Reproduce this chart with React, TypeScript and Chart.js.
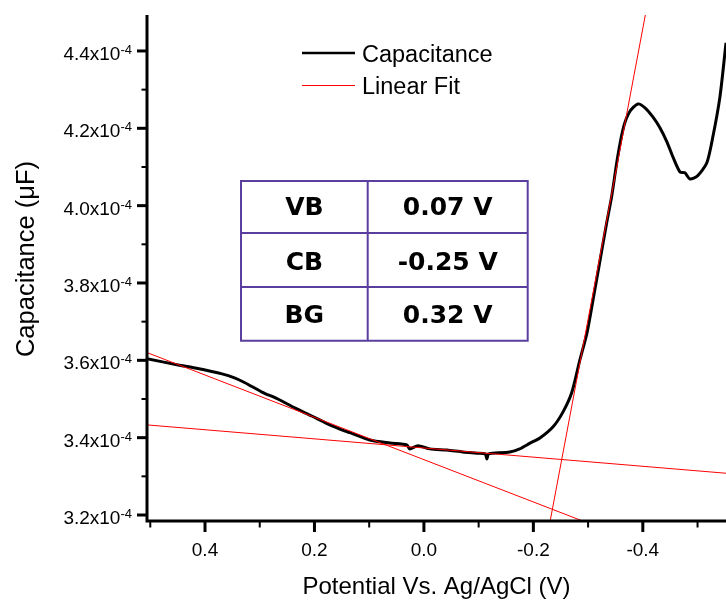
import React, { useEffect, useRef } from "react";
import { Chart, registerables } from "chart.js";

Chart.register(...registerables);

// Measured curve: potential (V vs Ag/AgCl) and capacitance (µF)
const potential = [
  0.506, 0.449, 0.418, 0.369, 0.345, 0.327, 0.296, 0.267, 0.236, 0.205, 0.175, 0.144,
  0.135, 0.099, 0.062, 0.031, 0.026, 0.011, -0.011, -0.042, -0.071, -0.097, -0.112,
  -0.115, -0.118, -0.126, -0.157, -0.175, -0.194, -0.212, -0.236, -0.254, -0.27,
  -0.285, -0.298, -0.309, -0.321, -0.334, -0.343, -0.354, -0.365, -0.376, -0.391,
  -0.404, -0.418, -0.431, -0.444, -0.455, -0.468, -0.477, -0.486, -0.5, -0.517,
  -0.528, -0.541, -0.552,
];
const capacitance = [
  3.604e-4, 3.588e-4, 3.58e-4, 3.565e-4, 3.554e-4, 3.542e-4, 3.518e-4, 3.5e-4, 3.477e-4,
  3.456e-4, 3.435e-4, 3.417e-4, 3.413e-4, 3.394e-4, 3.386e-4, 3.381e-4, 3.371e-4,
  3.379e-4, 3.371e-4, 3.368e-4, 3.363e-4, 3.36e-4, 3.358e-4, 3.345e-4, 3.358e-4,
  3.36e-4, 3.363e-4, 3.371e-4, 3.386e-4, 3.399e-4, 3.428e-4, 3.466e-4, 3.516e-4,
  3.601e-4, 3.671e-4, 3.756e-4, 3.852e-4, 3.956e-4, 4.023e-4, 4.126e-4, 4.204e-4,
  4.243e-4, 4.263e-4, 4.253e-4, 4.23e-4, 4.202e-4, 4.165e-4, 4.126e-4, 4.087e-4,
  4.085e-4, 4.069e-4, 4.077e-4, 4.111e-4, 4.178e-4, 4.282e-4, 4.421e-4,
];

// Linear fits (end points)
const vbFitX = [0.506, -0.29];
const vbFitY = [3.62e-4, 3.1845e-4];
const baseFitX = [0.506, -0.552];
const baseFitY = [3.433e-4, 3.308e-4];
const cbFitX = [-0.2307, -0.4046];
const cbFitY = [3.1845e-4, 4.493e-4];

// Axes
const xMin = -0.552;
const xMax = 0.506;
const yMin = 3.1845e-4;
const yMax = 4.493e-4;
const xMajorTicks = [0.4, 0.2, 0.0, -0.2, -0.4];
const xMajorLabels = ["0.4", "0.2", "0.0", "-0.2", "-0.4"];
const xMinorTicks = [0.5, 0.3, 0.1, -0.1, -0.3, -0.5];
const yMajorTicks = [3.2e-4, 3.4e-4, 3.6e-4, 3.8e-4, 4.0e-4, 4.2e-4, 4.4e-4];
const yMajorLabels = ["3.2x10", "3.4x10", "3.6x10", "3.8x10", "4.0x10", "4.2x10", "4.4x10"];
const yExponent = "-4";
const yMinorTicks = [3.3e-4, 3.5e-4, 3.7e-4, 3.9e-4, 4.1e-4, 4.3e-4];

const xTitle = "Potential Vs. Ag/AgCl (V)";
const yTitle = "Capacitance (\u03bcF)";
const seriesNames = ["Capacitance", "Linear Fit"];

// Band table
const tableNames = ["VB", "CB", "BG"];
const tableValues = ["0.07 V", "-0.25 V", "0.32 V"];

const SANS = '"Liberation Sans", Arial, sans-serif';

const overlay = {
  id: "overlay",
  afterDraw(chart: any) {
    const ctx: CanvasRenderingContext2D = chart.ctx;
    const { left, right, top, bottom } = chart.chartArea;
    const xs = chart.scales.x;
    const ys = chart.scales.y;
    ctx.save();
    ctx.strokeStyle = "#000";
    ctx.fillStyle = "#000";
    ctx.lineCap = "butt";

    // axis lines
    ctx.lineWidth = 3;
    ctx.beginPath();
    ctx.moveTo(left, top);
    ctx.lineTo(left, bottom + 1.5);
    ctx.moveTo(left - 1.5, bottom);
    ctx.lineTo(right, bottom);
    ctx.stroke();

    // y ticks
    yMajorTicks.forEach((v) => {
      const y = ys.getPixelForValue(v);
      ctx.lineWidth = 3;
      ctx.beginPath();
      ctx.moveTo(left - 10, y);
      ctx.lineTo(left, y);
      ctx.stroke();
    });
    yMinorTicks.forEach((v) => {
      const y = ys.getPixelForValue(v);
      ctx.lineWidth = 2;
      ctx.beginPath();
      ctx.moveTo(left - 5.5, y);
      ctx.lineTo(left, y);
      ctx.stroke();
    });
    // x ticks
    xMajorTicks.forEach((v) => {
      const x = xs.getPixelForValue(v);
      ctx.lineWidth = 3;
      ctx.beginPath();
      ctx.moveTo(x, bottom);
      ctx.lineTo(x, bottom + 11);
      ctx.stroke();
    });
    xMinorTicks.forEach((v) => {
      const x = xs.getPixelForValue(v);
      ctx.lineWidth = 2;
      ctx.beginPath();
      ctx.moveTo(x, bottom);
      ctx.lineTo(x, bottom + 6.5);
      ctx.stroke();
    });

    // y tick labels with superscript exponent
    const labelRight = left - 15;
    yMajorTicks.forEach((v, i) => {
      const y = ys.getPixelForValue(v);
      ctx.textAlign = "right";
      ctx.textBaseline = "alphabetic";
      ctx.font = `13px ${SANS}`;
      const supW = ctx.measureText(yExponent).width;
      ctx.fillText(yExponent, labelRight, y + 3);
      ctx.font = `19px ${SANS}`;
      ctx.fillText(yMajorLabels[i], labelRight - supW, y + 9);
    });

    // x tick labels
    ctx.font = `19px ${SANS}`;
    ctx.textAlign = "center";
    ctx.textBaseline = "alphabetic";
    xMajorTicks.forEach((v, i) => {
      const x = xs.getPixelForValue(v);
      ctx.fillText(xMajorLabels[i], x, 556);
    });

    // axis titles
    ctx.font = `24px ${SANS}`;
    ctx.fillText(xTitle, (left + right) / 2, 594);
    ctx.save();
    ctx.translate(33.5, 259);
    ctx.rotate(-Math.PI / 2);
    ctx.font = `25.5px ${SANS}`;
    ctx.textAlign = "center";
    ctx.fillText(yTitle, 0, 0);
    ctx.restore();

    // legend
    ctx.lineWidth = 2.5;
    ctx.strokeStyle = "#000";
    ctx.beginPath();
    ctx.moveTo(302, 53);
    ctx.lineTo(355, 53);
    ctx.stroke();
    ctx.lineWidth = 1;
    ctx.strokeStyle = "#ff0000";
    ctx.beginPath();
    ctx.moveTo(302, 85.5);
    ctx.lineTo(355, 85.5);
    ctx.stroke();
    ctx.font = `23.5px ${SANS}`;
    ctx.textAlign = "left";
    ctx.fillStyle = "#000";
    ctx.fillText(seriesNames[0], 362, 62);
    ctx.fillText(seriesNames[1], 362, 93.5);

    // table
    const tx = [241, 367.7, 527.7];
    const ty = [181, 233, 287, 340.7];
    ctx.fillStyle = "#ffffff";
    ctx.fillRect(tx[0], ty[0], tx[2] - tx[0], ty[3] - ty[0]);
    ctx.strokeStyle = "#5b3f9e";
    ctx.lineWidth = 2;
    ctx.beginPath();
    ctx.rect(tx[0], ty[0], tx[2] - tx[0], ty[3] - ty[0]);
    ctx.moveTo(tx[1], ty[0]);
    ctx.lineTo(tx[1], ty[3]);
    ctx.moveTo(tx[0], ty[1]);
    ctx.lineTo(tx[2], ty[1]);
    ctx.moveTo(tx[0], ty[2]);
    ctx.lineTo(tx[2], ty[2]);
    ctx.stroke();
    ctx.fillStyle = "#000";
    ctx.font = `bold 25px "DejaVu Sans", sans-serif`;
    ctx.textAlign = "center";
    const baselines = [215, 269.5, 323];
    tableNames.forEach((n, i) => {
      ctx.fillText(n, (tx[0] + tx[1]) / 2, baselines[i]);
      ctx.fillText(tableValues[i], (tx[1] + tx[2]) / 2, baselines[i]);
    });

    ctx.restore();
  },
};

export default function App() {
  const ref = useRef<HTMLCanvasElement>(null);
  useEffect(() => {
    const toPts = (xa: number[], ya: number[]) => xa.map((x, i) => ({ x, y: ya[i] }));
    const chart = new Chart(ref.current as HTMLCanvasElement, {
      type: "line",
      data: {
        datasets: [
          {
            label: seriesNames[1],
            data: toPts(vbFitX, vbFitY),
            borderColor: "#ff0000",
            borderWidth: 1,
            pointRadius: 0,
            tension: 0,
          },
          {
            label: seriesNames[1],
            data: toPts(baseFitX, baseFitY),
            borderColor: "#ff0000",
            borderWidth: 1,
            pointRadius: 0,
            tension: 0,
          },
          {
            label: seriesNames[0],
            data: toPts(potential, capacitance),
            borderColor: "#000000",
            borderWidth: 3,
            pointRadius: 0,
            tension: 0.25,
            order: 1,
          },
          {
            label: seriesNames[1],
            data: toPts(cbFitX, cbFitY),
            borderColor: "#ff0000",
            borderWidth: 1,
            pointRadius: 0,
            tension: 0,
            order: 0,
          },
        ],
      },
      options: {
        animation: false,
        responsive: false,
        devicePixelRatio: 1,
        parsing: false as any,
        layout: { padding: { left: 147, top: 15, right: 0, bottom: 79 } },
        plugins: { legend: { display: false }, tooltip: { enabled: false } },
        scales: {
          x: { type: "linear", display: false, min: xMin, max: xMax, reverse: true },
          y: { type: "linear", display: false, min: yMin, max: yMax },
        },
      },
      plugins: [overlay],
    });
    return () => chart.destroy();
  }, []);
  return (
    <div style={{ position: "fixed", left: 0, top: 0, width: 726, height: 600, background: "#fff" }}>
      <canvas ref={ref} width={726} height={600} style={{ display: "block" }} />
    </div>
  );
}
